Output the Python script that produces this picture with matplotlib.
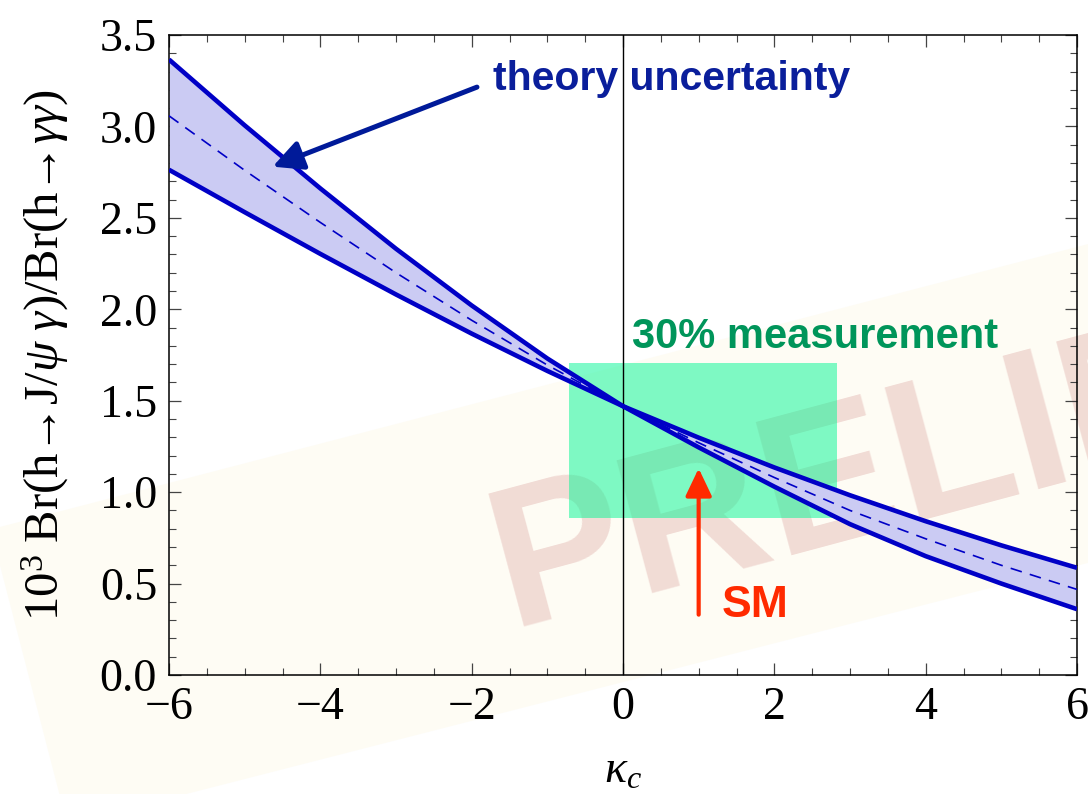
import matplotlib
matplotlib.use("Agg")
import matplotlib.pyplot as plt
from matplotlib.ticker import MultipleLocator, FormatStrFormatter
from matplotlib.patches import Polygon, Rectangle

# ---------------- data ----------------
kappa = [-6, -5, -4, -3, -2, -1, 0, 1, 2, 3, 4, 5, 6]
curve_a = [3.366, 3.006, 2.661, 2.331, 2.021, 1.731, 1.47, 1.245, 1.03, 0.825, 0.65, 0.50, 0.36]
curve_b = [2.763, 2.531, 2.303, 2.081, 1.867, 1.663, 1.47, 1.298, 1.135, 0.983, 0.841, 0.709, 0.586]
central = [3.058, 2.76, 2.475, 2.20, 1.94, 1.695, 1.47, 1.27, 1.08, 0.90, 0.745, 0.60, 0.468]

meas_kappa = (-0.71, 2.83)      # green box x-range
meas_ratio = (0.86, 1.705)      # green box y-range

sm_kappa = 1.0
sm_arrow_y = (0.33, 1.13)
theory_tip = (-4.63, 2.78)
theory_tail = (-1.93, 3.215)

x_ticks = [-6, -4, -2, 0, 2, 4, 6]
y_ticks = [0.0, 0.5, 1.0, 1.5, 2.0, 2.5, 3.0, 3.5]

# ---------------- styling ----------------
plt.rcParams['font.family'] = ['Liberation Serif', 'DejaVu Serif']
plt.rcParams['mathtext.fontset'] = 'custom'
plt.rcParams['mathtext.rm'] = 'Liberation Serif'
plt.rcParams['mathtext.it'] = 'Liberation Serif:italic'
plt.rcParams['mathtext.bf'] = 'Liberation Serif:bold'

W, H = 1088, 794
fig = plt.figure(figsize=(W / 100, H / 100), dpi=100)
fig.patch.set_facecolor('white')

def fp(x, y):
    return (x / W, 1 - y / H)

# faint beige band behind the watermark
band = Polygon([fp(-9.4, 529.4), fp(1400, 529.4 - 0.26 * 1409.4),
                fp(1400 + 0.26 * 300, 529.4 - 0.26 * 1409.4 + 300),
                fp(67.3, 824.5)],
               closed=True, transform=fig.transFigure, facecolor='#FEFCF4',
               edgecolor='none', zorder=-3)
fig.patches.append(band)

fig.text(*fp(510, 627), 'PRELIMINARY', rotation=15, rotation_mode='anchor',
         ha='left', va='baseline', fontsize=144, family='Liberation Sans',
         weight='bold', color=(0.75, 0.35, 0.35), alpha=0.2, zorder=-2)

ax = fig.add_axes([169 / W, 1 - 675 / H, 908 / W, 640 / H])
ax.set_facecolor('none')

# green measurement box
ax.add_patch(Rectangle((meas_kappa[0], meas_ratio[0]), meas_kappa[1] - meas_kappa[0],
                       meas_ratio[1] - meas_ratio[0], facecolor=(0.0, 0.97, 0.58),
                       alpha=0.5, edgecolor='none', zorder=1))

# band
ax.fill_between(kappa, curve_a, curve_b, color='#CBCBF3', lw=0, zorder=2)
ax.plot(kappa, curve_a, color='#0000C6', lw=3.3, solid_capstyle='butt',
        solid_joinstyle='round', zorder=4)
ax.plot(kappa, curve_b, color='#0000C6', lw=3.3, solid_capstyle='butt',
        solid_joinstyle='round', zorder=4)
ax.plot(kappa, central, color='#0000C6', lw=1.2, ls=(0, (7, 5)), zorder=3)

ax.axvline(0, color='black', lw=1.0, zorder=3.5)

# arrows
ax.annotate('', xy=theory_tip, xytext=theory_tail,
            arrowprops=dict(arrowstyle='-|>,head_length=0.4,head_width=0.2',
                            lw=3.6, color='#001A99', mutation_scale=45,
                            shrinkA=0, shrinkB=0), zorder=6)
ax.annotate('', xy=(sm_kappa, sm_arrow_y[1]), xytext=(sm_kappa, sm_arrow_y[0]),
            arrowprops=dict(arrowstyle='-|>,head_length=0.42,head_width=0.2',
                            lw=3.0, color='#FF2A00', mutation_scale=40,
                            shrinkA=0, shrinkB=0), zorder=6)

ax.text(-1.72, 3.2, 'theory uncertainty', family='Liberation Sans', weight='bold',
        fontsize=29.5, color='#0A1E9B', ha='left', va='baseline', zorder=7)
ax.text(0.12, 1.79, '30% measurement', family='Liberation Sans', weight='bold',
        fontsize=30, color='#00955A', ha='left', va='baseline', zorder=7)
ax.text(1.31, 0.317, 'SM', family='Liberation Sans', weight='bold',
        fontsize=32, color='#FF2A00', ha='left', va='baseline', zorder=7)

# axes
ax.set_xlim(-6, 6)
ax.set_ylim(0, 3.5)
ax.set_xticks(x_ticks)
ax.set_yticks(y_ticks)
ax.yaxis.set_major_formatter(FormatStrFormatter('%.1f'))
ax.xaxis.set_minor_locator(MultipleLocator(0.5))
ax.yaxis.set_minor_locator(MultipleLocator(0.1))
ax.tick_params(which='both', direction='in', top=True, right=True, color='#444444')
ax.tick_params(which='major', length=8.6, width=0.9, labelsize=33)
ax.tick_params(which='minor', length=5, width=0.8)
ax.tick_params(axis='y', which='major', pad=8.6)
ax.tick_params(axis='x', which='major', pad=8)
for s in ax.spines.values():
    s.set_linewidth(1.1)

ax.set_xlabel(r'$\kappa_c$', fontsize=33)
ax.xaxis.set_label_coords(0.5, -0.118)
ax.set_ylabel(r'$10^3\ \mathrm{Br(h→J/}\psi\ \gamma\mathrm{)/Br(h→}\gamma\gamma\mathrm{)}$',
              fontsize=35)
ax.yaxis.set_label_coords(-0.108, 0.5)

fig.savefig('out.png', dpi=100)
